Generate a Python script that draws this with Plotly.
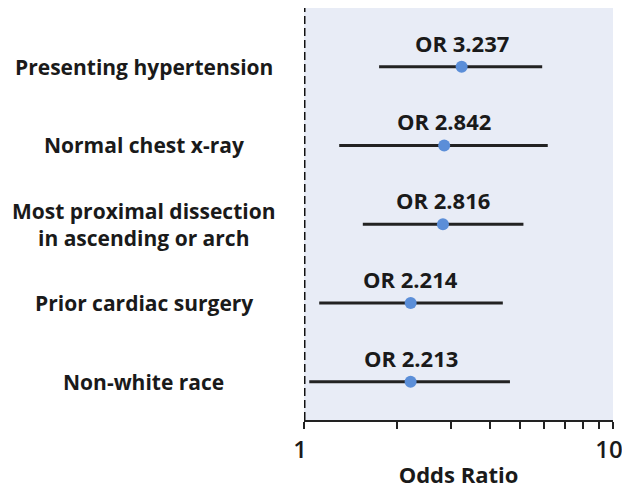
import math
import plotly.graph_objects as go

# forest plot data, top row first
labels = ["Presenting hypertension",
          "Normal chest x-ray",
          "Most proximal dissection<br>in ascending or arch",
          "Prior cardiac surgery",
          "Non-white race"]
odds = [3.237, 2.842, 2.816, 2.214, 2.213]
ci_low = [1.75, 1.30, 1.55, 1.12, 1.04]
ci_high = [5.90, 6.15, 5.13, 4.40, 4.64]
rows = [5, 4, 3, 2, 1]

tick_vals = [1, 2, 3, 4, 5, 6, 7, 8, 9, 10]
tick_text = ["1", "", "", "", "", "", "", "", "", "10"]

dot_color = "#5b8ed8"
line_color = "#222222"
text_color = "#1a1a1a"
label_font = dict(family="Open Sans", size=21, color=text_color, weight="bold")
or_font = dict(family="Open Sans", size=22, color=text_color, weight="bold")

fig = go.Figure()

# confidence interval whiskers
for lo, hi, r in zip(ci_low, ci_high, rows):
    fig.add_trace(go.Scatter(x=[lo, hi], y=[r, r], mode="lines",
                             line=dict(color=line_color, width=3),
                             showlegend=False, hoverinfo="skip"))

# point estimates
fig.add_trace(go.Scatter(x=odds, y=rows, mode="markers",
                         marker=dict(color=dot_color, size=12),
                         showlegend=False))

# reference line at OR = 1
fig.add_shape(type="line", x0=1, x1=1, xref="x", y0=0, y1=1, yref="paper",
              line=dict(color="#111111", width=3, dash="8px,4px"))

# annotations on a log axis take log10 positions
for o, r in zip(odds, rows):
    fig.add_annotation(x=math.log10(o), y=r, text=f"OR {o:.3f}", showarrow=False,
                       yshift=24, font=or_font)

for lab, r in zip(labels, rows):
    fig.add_annotation(x=-0.518, xref="paper", y=r, yref="y", text=lab,
                       showarrow=False, xanchor="center", align="center",
                       font=label_font)

fig.update_layout(
    width=622, height=488,
    margin=dict(l=296, r=17, t=0, b=76),
    plot_bgcolor="#e8ecf6",
    paper_bgcolor="white",
    xaxis=dict(type="log", range=[0, 1], tickvals=tick_vals, ticktext=tick_text,
               showgrid=False, zeroline=False, showline=True,
               linecolor=line_color, linewidth=2,
               ticks="outside", ticklen=7, tickwidth=2, tickcolor=line_color,
               ticklabelshift=-4,
               tickfont=dict(family="Open Sans", size=24, color=text_color, weight=600),
               title=dict(text="Odds Ratio", standoff=4,
                          font=dict(family="Open Sans", size=22, color=text_color, weight="bold"))),
    yaxis=dict(range=[0.514, 5.745], showgrid=False, zeroline=False,
               showticklabels=False, showline=False),
)

fig.write_html("out.html")
